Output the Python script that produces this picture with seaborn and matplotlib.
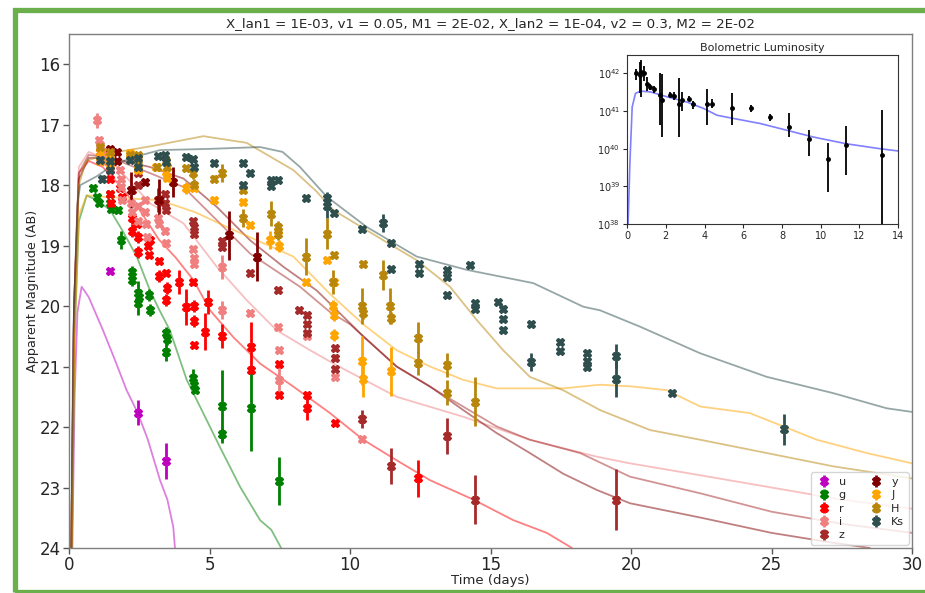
import matplotlib
matplotlib.use("Agg")
import matplotlib.pyplot as plt
import seaborn as sns
import numpy as np
import pandas as pd
from matplotlib.patches import Rectangle

# ---------------- data ----------------
filters = ["u", "g", "r", "i", "z", "y", "J", "H", "Ks"]
colors = {"u": "#bf00bf", "g": "#008000", "r": "#ff0000", "i": "#f08080", "z": "#a52a2a",
          "y": "#800000", "J": "#ffa500", "H": "#b8860b", "Ks": "#2f4f4f"}

# observations: (time [d], magnitude, error)
obs_u = [(1.45, 19.42, 0.05), (2.44, 21.76, 0.2), (3.45, 22.56, 0.3)]
obs_g = [(0.85, 18.05, 0.05), (1.0, 18.2, 0.05), (1.05, 18.3, 0.05), (1.45, 18.15, 0.05),
         (1.47, 18.3, 0.05), (1.5, 18.4, 0.05), (1.75, 18.41, 0.05), (1.84, 18.91, 0.15),
         (2.23, 19.43, 0.1), (2.25, 19.57, 0.1), (2.44, 19.79, 0.2), (2.46, 19.95, 0.2),
         (2.48, 19.85, 0.1), (2.86, 19.82, 0.1), (2.88, 20.07, 0.1), (3.45, 20.45, 0.1),
         (3.47, 20.55, 0.1), (3.46, 20.76, 0.15), (4.43, 21.19, 0.15), (4.45, 21.3, 0.1),
         (4.47, 21.39, 0.05), (5.46, 21.66, 0.6), (5.46, 22.12, 0.1), (6.47, 21.69, 0.7),
         (7.47, 22.89, 0.4)]
obs_r = [(1.1, 17.45, 0.05), (1.1, 17.6, 0.05), (1.46, 17.75, 0.05), (1.46, 17.9, 0.05),
         (1.46, 18.15, 0.05), (1.48, 18.3, 0.05), (1.82, 18.05, 0.05), (1.9, 18.2, 0.05),
         (2.23, 18.55, 0.1), (2.25, 18.75, 0.1), (2.43, 18.65, 0.05), (2.44, 18.85, 0.1),
         (2.45, 19.1, 0.1), (2.82, 19.0, 0.05), (2.88, 18.91, 0.05), (2.84, 19.15, 0.05),
         (3.2, 19.25, 0.05), (3.22, 19.5, 0.1), (3.45, 19.45, 0.05), (3.47, 19.7, 0.1),
         (3.45, 19.9, 0.1), (3.93, 19.6, 0.2), (4.18, 20.01, 0.3), (4.43, 19.6, 0.05),
         (4.44, 20.0, 0.1), (4.45, 20.25, 0.1), (4.45, 20.64, 0.05), (4.83, 20.42, 0.3),
         (4.96, 19.93, 0.2), (5.46, 20.5, 0.2), (6.47, 20.67, 0.4), (6.47, 21.05, 0.05),
         (7.47, 20.95, 0.05), (7.47, 21.47, 0.05), (8.46, 21.47, 0.05), (8.46, 21.69, 0.2),
         (9.47, 21.93, 0.05), (12.43, 22.85, 0.3)]
obs_i = [(1.01, 16.93, 0.12), (1.08, 17.26, 0.05), (1.1, 17.34, 0.05), (1.2, 17.45, 0.05),
         (1.22, 17.6, 0.05), (1.46, 17.7, 0.05), (1.82, 17.75, 0.05), (1.84, 17.9, 0.05),
         (1.85, 18.03, 0.05), (1.9, 18.25, 0.05), (2.22, 18.3, 0.05), (2.24, 18.45, 0.05),
         (2.45, 18.35, 0.05), (2.47, 18.6, 0.05), (2.7, 18.25, 0.05), (2.72, 18.45, 0.05),
         (2.75, 18.65, 0.05), (2.77, 18.85, 0.05), (3.18, 18.55, 0.05), (3.2, 18.65, 0.05),
         (3.42, 18.75, 0.05), (3.45, 18.95, 0.05), (4.42, 19.05, 0.05), (4.44, 19.2, 0.05),
         (4.46, 19.3, 0.05), (5.43, 19.35, 0.2), (5.46, 20.07, 0.15), (6.44, 20.12, 0.05),
         (7.45, 20.34, 0.05), (7.47, 20.72, 0.05), (7.47, 21.22, 0.3), (8.46, 20.5, 0.05),
         (9.47, 21.17, 0.05), (10.44, 22.19, 0.05)]
obs_z = [(2.23, 18.08, 0.05), (2.47, 17.8, 0.05), (2.47, 18.0, 0.05), (3.18, 18.25, 0.2),
         (3.42, 18.15, 0.05), (3.43, 18.3, 0.05), (3.45, 18.41, 0.05), (4.42, 18.6, 0.05),
         (4.44, 18.7, 0.05), (4.46, 18.8, 0.05), (5.43, 18.92, 0.05), (5.45, 19.03, 0.05),
         (6.44, 19.46, 0.05), (7.45, 19.74, 0.05), (8.19, 20.06, 0.05), (8.46, 20.15, 0.05),
         (8.46, 20.3, 0.05), (8.47, 20.45, 0.05), (9.47, 20.7, 0.05), (9.47, 20.85, 0.05),
         (9.48, 21.04, 0.05), (10.44, 21.86, 0.15), (11.45, 22.65, 0.3), (13.44, 22.15, 0.3),
         (14.45, 23.2, 0.4), (19.47, 23.2, 0.5)]
obs_y = [(1.45, 17.4, 0.05), (1.7, 17.45, 0.05), (1.7, 17.6, 0.05), (2.19, 18.08, 0.3),
         (2.7, 17.95, 0.05), (3.2, 18.25, 0.35), (3.71, 17.95, 0.25), (5.69, 18.83, 0.4),
         (6.68, 19.18, 0.4)]
obs_J = [(1.1, 17.45, 0.05), (1.1, 17.6, 0.05), (1.46, 17.5, 0.05), (1.46, 17.65, 0.05),
         (2.17, 17.46, 0.05), (2.44, 17.55, 0.05), (2.44, 17.75, 0.05), (3.1, 17.7, 0.05),
         (3.45, 17.78, 0.05), (3.47, 17.88, 0.05), (4.17, 18.05, 0.1), (4.44, 18.05, 0.05),
         (5.16, 18.24, 0.05), (6.18, 18.28, 0.05), (6.45, 18.66, 0.05), (7.16, 18.9, 0.15),
         (7.45, 18.75, 0.05), (7.46, 19.0, 0.1), (8.43, 19.6, 0.05), (9.17, 19.24, 0.05),
         (9.42, 19.6, 0.05), (9.41, 20.0, 0.1), (9.43, 20.15, 0.1), (9.43, 20.48, 0.1),
         (10.44, 20.9, 0.4), (10.45, 21.2, 0.3), (11.45, 21.08, 0.4)]
obs_H = [(1.1, 17.37, 0.05), (1.46, 17.45, 0.05), (1.46, 17.6, 0.05), (2.17, 17.5, 0.05),
         (2.44, 17.5, 0.05), (2.44, 17.65, 0.05), (3.14, 17.7, 0.05), (3.45, 17.6, 0.05),
         (3.48, 17.7, 0.05), (4.17, 17.72, 0.05), (4.43, 17.8, 0.1), (4.45, 18.0, 0.1),
         (5.16, 17.89, 0.05), (5.44, 17.8, 0.15), (6.18, 18.08, 0.05), (6.18, 18.55, 0.15),
         (7.18, 18.47, 0.2), (7.42, 18.7, 0.1), (7.44, 18.8, 0.1), (8.43, 19.18, 0.3),
         (9.17, 18.8, 0.25), (9.42, 19.16, 0.05), (9.4, 19.6, 0.2), (10.45, 19.3, 0.05),
         (10.44, 20.0, 0.3), (10.45, 20.12, 0.1), (11.19, 19.49, 0.25), (11.42, 20.0, 0.3),
         (11.45, 20.2, 0.1), (12.43, 20.52, 0.25), (12.43, 20.94, 0.2), (13.44, 20.98, 0.2),
         (13.44, 21.43, 0.2), (14.45, 21.58, 0.4)]
obs_Ks = [(1.1, 17.59, 0.05), (1.16, 17.89, 0.05), (1.46, 17.6, 0.05), (1.46, 17.75, 0.05),
          (2.17, 17.59, 0.05), (2.44, 17.55, 0.05), (2.44, 17.7, 0.05), (3.16, 17.51, 0.05),
          (3.43, 17.5, 0.05), (3.45, 17.62, 0.05), (4.16, 17.53, 0.05), (4.43, 17.57, 0.05),
          (4.45, 17.7, 0.05), (5.16, 17.64, 0.05), (6.18, 17.64, 0.05), (6.18, 18.0, 0.05),
          (6.44, 17.8, 0.05), (7.18, 17.92, 0.05), (7.19, 18.02, 0.05), (7.42, 17.92, 0.05),
          (8.42, 18.22, 0.05), (9.17, 18.22, 0.1), (9.18, 18.34, 0.2), (9.42, 18.46, 0.05),
          (10.42, 18.72, 0.05), (11.16, 18.62, 0.15), (11.45, 18.96, 0.05), (11.45, 19.38, 0.05),
          (12.46, 19.3, 0.05), (12.47, 19.46, 0.05), (13.44, 19.4, 0.05), (13.45, 19.52, 0.05),
          (13.44, 19.82, 0.05), (14.27, 19.32, 0.05), (14.43, 19.95, 0.05), (14.44, 20.04, 0.05),
          (15.28, 19.93, 0.05), (15.43, 20.04, 0.05), (15.44, 20.22, 0.05), (15.45, 20.4, 0.05),
          (16.44, 20.29, 0.05), (16.45, 20.92, 0.15), (17.47, 20.6, 0.05), (17.48, 20.74, 0.05),
          (18.42, 20.78, 0.05), (18.43, 20.9, 0.05), (18.44, 21.0, 0.05), (19.47, 20.83, 0.2),
          (19.47, 21.2, 0.3), (21.45, 21.43, 0.05), (25.44, 22.04, 0.25)]

# model light curves: (time [d], magnitude)
model_u = [(0.12, 24.0), (0.2, 21.5), (0.3, 20.1), (0.45, 19.68), (0.7, 19.85), (1.21, 20.4),
           (1.6, 20.85), (2.05, 21.39), (2.44, 21.76), (2.8, 22.2), (3.24, 22.88), (3.5, 23.2),
           (3.71, 23.65), (3.77, 24.0)]
model_g = [(0.1, 24.0), (0.2, 20.5), (0.35, 18.6), (0.63, 18.17), (1.0, 18.25), (1.46, 18.41),
           (1.9, 18.75), (2.41, 19.18), (2.88, 19.74), (3.2, 20.05), (3.59, 20.4), (4.19, 21.22),
           (4.66, 21.66), (5.37, 22.33), (6.09, 22.99), (6.8, 23.54), (7.2, 23.7), (7.55, 24.0)]
model_r = [(0.08, 24.0), (0.18, 20.0), (0.35, 17.8), (0.7, 17.6), (1.2, 17.7), (1.8, 18.0),
           (2.5, 18.4), (3.2, 18.9), (3.8, 19.2), (4.43, 19.57), (5.02, 20.07), (5.84, 20.51),
           (6.8, 20.95), (7.98, 21.33), (9.29, 21.77), (10.47, 22.21), (11.66, 22.55),
           (12.85, 22.88), (14.39, 23.2), (15.81, 23.54), (17.0, 23.75), (17.9, 24.0)]
model_i = [(0.08, 24.0), (0.18, 20.0), (0.35, 17.7), (0.7, 17.45), (1.5, 17.6), (2.2, 17.95),
           (2.88, 18.3), (4.07, 18.63), (5.26, 19.35), (6.32, 19.9), (7.39, 20.4), (8.58, 20.73),
           (9.53, 20.98), (11.66, 21.5), (14.03, 21.83), (16.4, 22.21), (18.78, 22.49),
           (19.96, 22.6), (22.5, 22.8), (25.0, 23.0), (27.5, 23.2), (30.0, 23.35)]
model_z = [(0.08, 24.0), (0.18, 20.0), (0.35, 17.8), (0.7, 17.5), (1.5, 17.55), (2.88, 17.8),
           (4.07, 18.03), (5.26, 18.58), (6.44, 19.13), (8.22, 19.68), (9.29, 20.1), (10.0, 20.3),
           (11.66, 21.0), (13.44, 21.5), (15.22, 21.99), (16.4, 22.21), (18.19, 22.43),
           (19.96, 22.82), (22.5, 23.1), (25.0, 23.4), (27.5, 23.6), (30.0, 23.75)]
model_y = [(0.08, 24.0), (0.18, 20.0), (0.35, 17.9), (0.7, 17.55), (1.5, 17.55), (2.88, 17.7),
           (4.07, 17.89), (5.26, 18.36), (6.44, 18.91), (7.63, 19.35), (8.81, 19.74), (9.6, 20.1),
           (10.47, 20.5), (11.66, 21.0), (12.85, 21.33), (14.03, 21.72), (15.22, 22.1),
           (16.4, 22.43), (17.58, 22.77), (18.78, 23.04), (19.96, 23.26), (22.5, 23.5),
           (25.0, 23.75), (27.0, 23.9), (28.5, 24.0)]
model_J = [(0.1, 24.0), (0.2, 20.5), (0.35, 18.5), (0.63, 18.17), (1.5, 18.2), (3.24, 18.25),
           (4.5, 18.45), (5.61, 18.69), (7.98, 19.18), (9.29, 19.8), (10.47, 20.3), (11.66, 20.73),
           (12.85, 21.0), (14.03, 21.22), (15.22, 21.36), (17.58, 21.36), (18.9, 21.3),
           (20.07, 21.33), (21.27, 21.39), (22.46, 21.66), (24.23, 21.77), (25.42, 21.99),
           (26.61, 22.21), (28.39, 22.43), (30.0, 22.6)]
model_H = [(0.08, 24.0), (0.18, 20.5), (0.35, 18.0), (0.6, 17.6), (1.46, 17.47), (3.0, 17.35),
           (4.78, 17.19), (6.32, 17.3), (7.98, 17.75), (8.8, 18.1), (9.4, 18.41), (11.18, 18.91),
           (12.37, 19.24), (13.56, 19.68), (14.51, 20.23), (15.45, 20.73), (16.4, 21.17),
           (17.58, 21.39), (18.9, 21.72), (20.68, 22.05), (22.46, 22.21), (24.83, 22.43),
           (27.2, 22.65), (30.0, 22.85)]
model_Ks = [(0.08, 24.0), (0.15, 20.5), (0.3, 18.3), (0.4, 18.0), (1.0, 17.85), (1.46, 17.7),
            (2.2, 17.55), (3.24, 17.42), (5.0, 17.4), (6.8, 17.37), (7.6, 17.45), (8.22, 17.7),
            (9.17, 18.19), (10.59, 18.69), (12.37, 19.18), (14.15, 19.4), (16.52, 19.62),
            (18.3, 20.01), (18.9, 20.07), (20.32, 20.34), (22.46, 20.78), (24.83, 21.17),
            (27.2, 21.44), (29.1, 21.69), (30.0, 21.75)]

obs = {"u": obs_u, "g": obs_g, "r": obs_r, "i": obs_i, "z": obs_z, "y": obs_y,
       "J": obs_J, "H": obs_H, "Ks": obs_Ks}
models = {"u": model_u, "g": model_g, "r": model_r, "i": model_i, "z": model_z, "y": model_y,
          "J": model_J, "H": model_H, "Ks": model_Ks}

# bolometric luminosity: time, log10 L, log10 lower, log10 upper
bol_t = [0.48, 0.65, 0.70, 0.86, 1.03, 1.2, 1.41, 1.68, 1.8, 2.2, 2.4, 2.66, 2.83, 3.21, 3.4,
         4.12, 4.4, 5.41, 6.39, 7.39, 8.38, 9.4, 10.4, 11.29, 13.19]
bol_logL = [42.0, 41.96, 42.04, 42.0, 41.72, 41.64, 41.59, 41.42, 41.29, 41.44, 41.4, 41.2,
            41.29, 41.33, 41.2, 41.2, 41.2, 41.07, 41.07, 40.84, 40.58, 40.25, 39.73, 40.09, 39.84]
bol_lo = [41.82, 41.47, 41.38, 41.8, 41.53, 41.57, 41.47, 40.62, 40.31, 41.38, 41.29, 40.31,
          41.0, 41.27, 41.05, 40.64, 41.09, 40.64, 40.98, 40.73, 40.31, 39.8, 38.84, 39.31, 38.0]
bol_hi = [42.13, 42.31, 42.37, 42.2, 41.91, 41.71, 41.68, 42.0, 41.98, 41.51, 41.51, 41.87,
          41.51, 41.4, 41.27, 41.58, 41.31, 41.48, 41.16, 40.93, 40.96, 40.5, 40.16, 40.6, 41.04]
bolmodel_t = [0.05, 0.14, 0.26, 0.43, 0.69, 1.2, 2.06, 3.09, 3.95, 4.64, 5.33, 6.87, 8.25,
              9.62, 11.34, 13.06, 14.0]
bolmodel_logL = [38.0, 39.6, 41.11, 41.47, 41.53, 41.51, 41.38, 41.24, 41.07, 40.89, 40.82,
                 40.67, 40.49, 40.31, 40.13, 40.0, 39.94]

title = "X_lan1 = 1E-03, v1 = 0.05, M1 = 2E-02, X_lan2 = 1E-04, v2 = 0.3, M2 = 2E-02"

# ---------------- plot ----------------
sns.set_theme(style="white")
plt.rcParams["font.family"] = ["DejaVu Sans"]

fig = plt.figure(figsize=(9.25, 5.93), dpi=100)
ax = fig.add_axes([0.0746, 0.0759, 0.9114, 0.8668])

for f in filters:
    mdf = pd.DataFrame(models[f], columns=["t", "mag"])
    sns.lineplot(data=mdf, x="t", y="mag", ax=ax, color=colors[f], alpha=0.5, lw=1.3,
                 sort=False, estimator=None, zorder=1)

for f in filters:
    odf = pd.DataFrame(obs[f], columns=["t", "mag", "err"])
    ax.errorbar(odf["t"], odf["mag"], yerr=odf["err"], fmt="X", color=colors[f], ms=6,
                elinewidth=2, capsize=0, label=f, zorder=3)

ax.set_xlim(0, 30)
ax.set_ylim(24, 15.5)
ax.set_xticks([0, 5, 10, 15, 20, 25, 30])
ax.set_yticks([16, 17, 18, 19, 20, 21, 22, 23, 24])
ax.tick_params(axis="both", labelsize=12, length=4, width=1, color="#555555",
               left=True, bottom=True, pad=2)
for s in ax.spines.values():
    s.set_color("#7f7f7f")
    s.set_linewidth(1.0)
ax.set_xlabel("Time (days)", fontsize=9.5, labelpad=0)
ax.set_ylabel("Apparent Magnitude (AB)", fontsize=9.2, labelpad=0)
ax.set_title(title, fontsize=9.6, pad=5)
ax.legend(loc="lower right", ncol=2, fontsize=8, frameon=True, framealpha=0.8,
          borderpad=0.4, handlelength=1.5, handletextpad=0.6, columnspacing=2.0,
          labelspacing=0.3, borderaxespad=0.3)

# inset
ax2 = fig.add_axes([0.678, 0.6223, 0.293, 0.285])
bdf = pd.DataFrame({"t": bolmodel_t, "L": 10.0 ** np.array(bolmodel_logL)})
sns.lineplot(data=bdf, x="t", y="L", ax=ax2, color="blue", alpha=0.5, lw=1.2,
             sort=False, estimator=None)
L = 10.0 ** np.array(bol_logL)
lo = L - 10.0 ** np.array(bol_lo)
hi = 10.0 ** np.array(bol_hi) - L
ax2.errorbar(bol_t, L, yerr=[lo, hi], fmt="o", color="black", ms=2.5, elinewidth=1.3,
             capsize=0)
ax2.set_yscale("log")
ax2.set_xlim(0, 14)
ax2.set_ylim(1e38, 3.1e42)
ax2.set_xticks([0, 2, 4, 6, 8, 10, 12, 14])
ax2.set_yticks([1e38, 1e39, 1e40, 1e41, 1e42])
ax2.tick_params(axis="both", labelsize=7, length=3, width=0.8, left=True, bottom=True,
                pad=2)
ax2.tick_params(axis="y", which="minor", left=False)
ax2.set_xlabel("")
ax2.set_ylabel("")
ax2.set_title("Bolometric Luminosity", fontsize=8, pad=3)
for s in ax2.spines.values():
    s.set_color("#333333")
    s.set_linewidth(0.8)

# green frame
fig.patches.append(Rectangle((14.5 / 925, 1.5 / 593), 940 / 925, (583.5 - 1.5) / 593,
                             transform=fig.transFigure, fill=False, edgecolor="#6aaf4c",
                             linewidth=3.8, zorder=10))

fig.savefig("out.png", dpi=100)
